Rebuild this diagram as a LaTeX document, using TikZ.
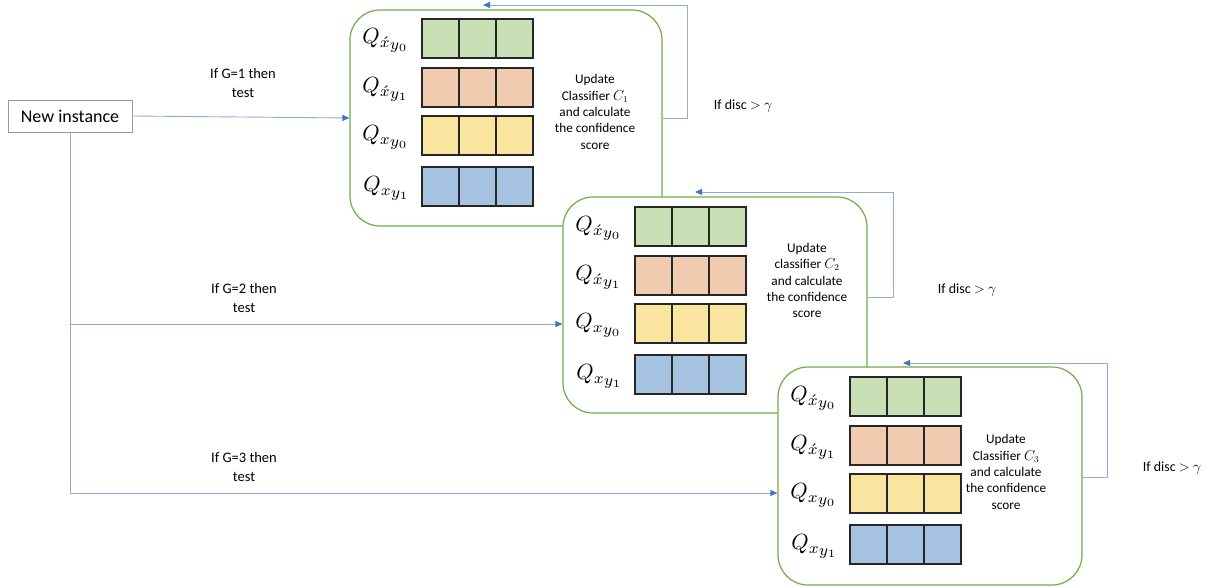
\documentclass[tikz,border=0pt]{standalone}
\usepackage{fontspec}
\setmainfont{Carlito}
\usetikzlibrary{arrows.meta}
\definecolor{panelgreen}{HTML}{70AD47}
\definecolor{cgreen}{HTML}{C9DFB5}
\definecolor{corange}{HTML}{F1CBB0}
\definecolor{cyellow}{HTML}{FAE5A0}
\definecolor{cblue}{HTML}{A6C4E2}
\definecolor{linkblue}{HTML}{8FAADC}
\definecolor{tipblue}{HTML}{4472C4}
\definecolor{celledge}{HTML}{262626}
\tikzset{
  panel/.style={draw=panelgreen, line width=1.2pt, rounded corners=30pt, fill=white},
  cellrow/.style={draw=celledge, line width=1.3pt},
  qlab/.style={scale=2.2, transform shape, inner sep=0pt},
  note/.style={align=center, font=\fontsize{13.3}{16.3}\selectfont},
  lab/.style={align=center, font=\fontsize{14.5}{19}\selectfont},
  disc/.style={font=\fontsize{14}{17}\selectfont},
  link/.style={draw=linkblue, line width=0.9pt},
  arr/.style={link, -{Triangle[length=7pt,width=6pt,color=tipblue]}},
  ibox/.style={draw=gray!80, line width=0.8pt, minimum width=124pt, minimum height=32pt, font=\fontsize{18}{21}\selectfont}
}
% #1 name, #2 left, #3 top, #4 width, #5 height, #6 row top offset, #7 text x, #8 text y, #9 text
\newcommand\qpanel[9]{%
  \begin{scope}[shift={(#2,#3)}]
    \node[panel, minimum width=#4pt, minimum height=#5pt] (#1) at (#4/2,#5/2) {};
    \foreach \rt/\cc [count=\k] in {0/cgreen,49/corange,97/cyellow,148/cblue}{
      \draw[cellrow, fill=\cc] (72,#6+\rt) rectangle +(111,39);
      \draw[cellrow] (109,#6+\rt) -- +(0,39) (146,#6+\rt) -- +(0,39);
    }
    \node[qlab] (#1q1) at (36,#6+21.5) {$Q_{\acute{x}_{\scriptstyle y_0}}$};
    \node[qlab] (#1q2) at (36,#6+70.5) {$Q_{\acute{x}_{\scriptstyle y_1}}$};
    \node[qlab] (#1q3) at (36,#6+118.5) {$Q_{x_{\scriptstyle y_0}}$};
    \node[qlab] (#1q4) at (37,#6+169.5) {$Q_{x_{\scriptstyle y_1}}$};
    \node[note] (#1t) at (#7,#8) {#9};
  \end{scope}}
\begin{document}
\begin{tikzpicture}[x=1pt,y=-1pt]
\useasboundingbox (0,0) rectangle (1214,588);
% panels
\qpanel{bA}{350}{10}{312}{216}{9}{245}{102}{Update\\Classifier $C_1$\\and calculate\\the confidence\\score}
\qpanel{bB}{563}{197}{304}{216}{10}{244}{83.5}{Update\\classifier $C_2$\\and calculate\\the confidence\\score}
\qpanel{bC}{778}{367}{304}{218}{10}{228}{105}{Update\\Classifier $C_3$\\and calculate\\the confidence\\score}
% new instance
\node[ibox] (ni) at (70,116) {New instance};
\coordinate (j2) at (70,324);
\coordinate (j3) at (70,493);
\draw[arr] (ni.east) -- (bA.west);
\draw[link] (ni.south) -- (j3);
\draw[arr] (j2) -- (bB.west |- j2);
\draw[arr] (j3) -- (bC.west |- j3);
\node[lab] (g1) at (243,83) {If G=1 then\\test};
\node[lab] (g2) at (244,298) {If G=2 then\\test};
\node[lab] (g3) at (244,467) {If G=3 then\\test};
% feedback loops
\coordinate (rA) at (687,118);
\coordinate (tA) at (483,5);
\draw[arr] (bA.east |- rA) -- (rA) |- (tA);
\coordinate (rB) at (893,297);
\coordinate (tB) at (695,192);
\draw[arr] (bB.east |- rB) -- (rB) |- (tB);
\coordinate (rC) at (1107,477);
\coordinate (tC) at (903,363);
\draw[arr] (bC.east |- rC) -- (rC) |- (tC);
\node[disc] (dA) at (743,106) {If disc $>$ $\gamma$};
\node[disc] (dB) at (967,290) {If disc $>$ $\gamma$};
\node[disc] (dC) at (1172,468) {If disc $>$ $\gamma$};
\end{tikzpicture}
\end{document}
